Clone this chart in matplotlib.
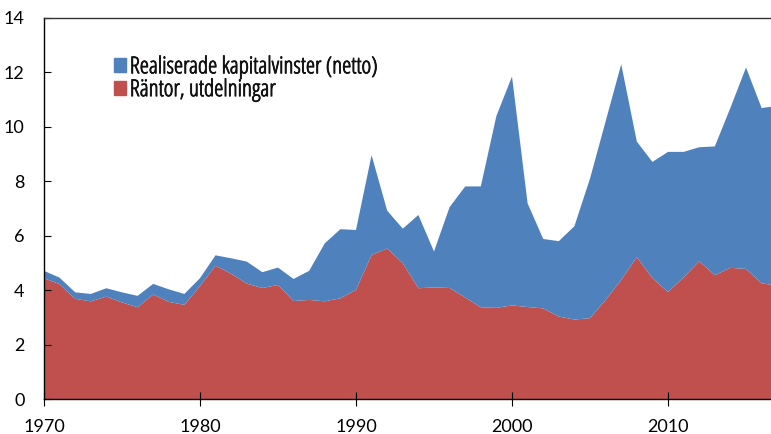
import numpy as np
import matplotlib.pyplot as plt
import matplotlib.patheffects as pe

plt.rcParams['font.family'] = ['Lato', 'DejaVu Sans']

# ── Data ────────────────────────────────────────────────
years = list(range(1970, 2018))

# Räntor, utdelningar (bottom layer)
rantor = [4.44, 4.22, 3.68, 3.59, 3.76, 3.55, 3.37, 3.84, 3.57, 3.46,
          4.15, 4.90, 4.60, 4.24, 4.08, 4.19, 3.60, 3.64, 3.59, 3.70,
          4.01, 5.29, 5.53, 4.99, 4.07, 4.10, 4.08, 3.73, 3.37, 3.35,
          3.44, 3.38, 3.33, 3.03, 2.92, 2.97, 3.64, 4.38, 5.21, 4.44,
          3.93, 4.47, 5.06, 4.55, 4.82, 4.78, 4.25, 4.17]

# total height (top of the blue layer)
total = [4.71, 4.46, 3.92, 3.86, 4.07, 3.92, 3.79, 4.23, 4.03, 3.86,
         4.44, 5.28, 5.17, 5.05, 4.66, 4.83, 4.41, 4.71, 5.72, 6.24,
         6.21, 8.96, 6.92, 6.26, 6.76, 5.42, 7.05, 7.81, 7.81, 10.40,
         11.85, 7.19, 5.88, 5.80, 6.35, 8.10, 10.20, 12.30, 9.46, 8.71,
         9.08, 9.08, 9.25, 9.28, 10.70, 12.18, 10.69, 10.77]

kapital = list(np.array(total) - np.array(rantor))

labels = ["Realiserade kapitalvinster (netto)", "Räntor, utdelningar"]
blue = "#4F81BD"
red = "#C0504D"

# ── Plot ────────────────────────────────────────────────
fig = plt.figure(figsize=(7.71, 4.34), dpi=100)
ax = fig.add_axes([0.057, 0.0806, 0.943, 0.878])

ax.stackplot(years, rantor, kapital, colors=[red, blue], linewidth=0)

# legend, blue entry first, condensed font
h_blue = plt.Rectangle((0, 0), 1, 1, color=blue)
h_red = plt.Rectangle((0, 0), 1, 1, color=red)
leg = ax.legend([h_blue, h_red], labels, loc="upper left",
                bbox_to_anchor=(0.096, 0.902), frameon=False,
                prop=dict(family='Open Sans', stretch='condensed', size=16.8),
                handlelength=0.52, handleheight=0.52, handletextpad=0.17,
                labelspacing=-0.05, borderaxespad=0, borderpad=0)
for t in leg.get_texts():
    t.set_path_effects([pe.withStroke(linewidth=0.6, foreground='#111111')])
    t.set_color('#111111')

ax.set_xlim(1970, 2016.6)
ax.set_ylim(0, 14)
ax.set_xticks([1970, 1980, 1990, 2000, 2010])
ax.set_yticks(range(0, 15, 2))
ax.tick_params(axis='x', direction='inout', length=9.4, labelsize=13, pad=10)
ax.tick_params(axis='y', direction='in', length=5, labelsize=13, pad=14)

ax.spines['right'].set_visible(False)
ax.spines['top'].set_color('#333333')
for s in ['left', 'bottom', 'top']:
    ax.spines[s].set_linewidth(1.0)

plt.savefig("out.png", dpi=100)
